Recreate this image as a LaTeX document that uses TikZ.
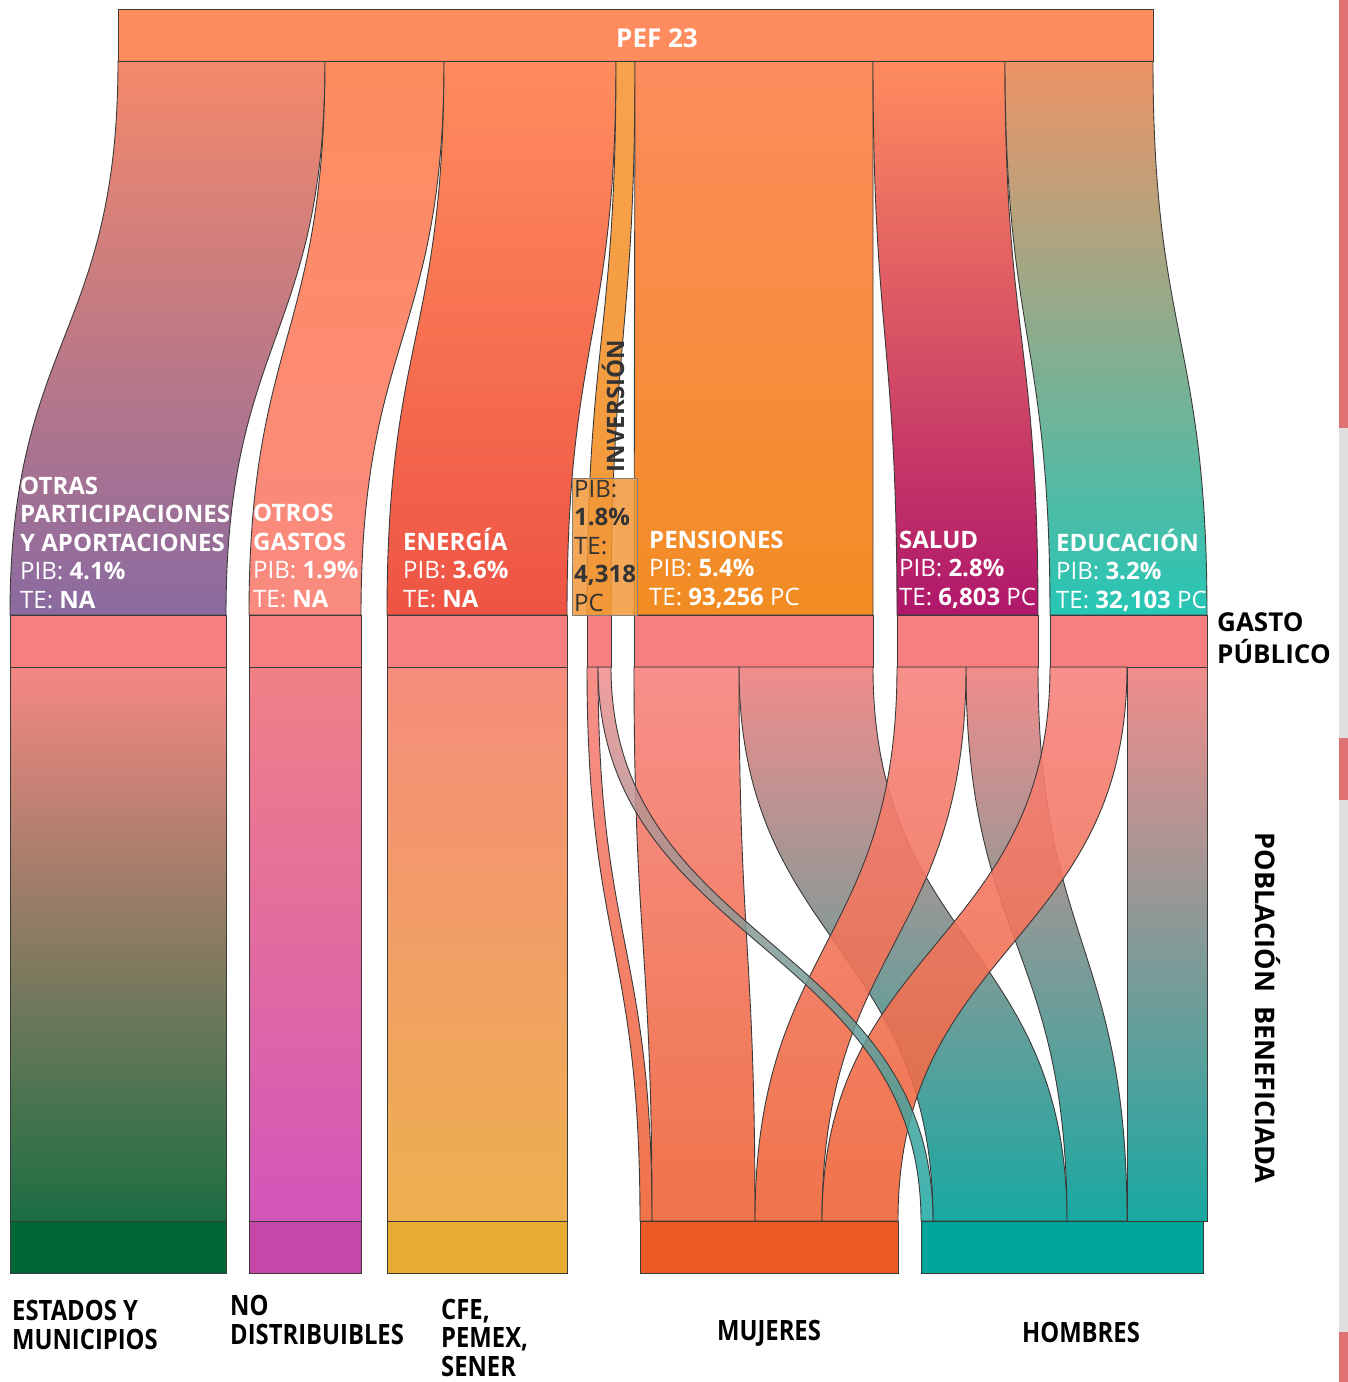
\documentclass[tikz,border=0pt]{standalone}
\usepackage{fontspec}
\setmainfont{Open Sans}
\newfontfamily\condfont[FakeStretch=0.85]{Open Sans}
\usetikzlibrary{calc}

\definecolor{pef}{HTML}{FF8C5E}
\definecolor{edge}{HTML}{3A3A3A}
\definecolor{mid}{HTML}{F77F7F}
\definecolor{otrasT}{HTML}{F4896A}
\definecolor{otrasB}{HTML}{8A6AA0}
\definecolor{otrosB}{HTML}{F98A80}
\definecolor{energB}{HTML}{EE5444}
\definecolor{inverT}{HTML}{F7A24C}
\definecolor{inverB}{HTML}{F29838}
\definecolor{pensB}{HTML}{F18C22}
\definecolor{saludB}{HTML}{AF176B}
\definecolor{educT}{HTML}{EE9466}
\definecolor{educB}{HTML}{26C6B6}
\definecolor{lowT}{HTML}{F58782}
\definecolor{estB}{HTML}{1B6E42}
\definecolor{nodB}{HTML}{D256BA}
\definecolor{cfeB}{HTML}{EDB04E}
\definecolor{mujT}{HTML}{F6847E}
\definecolor{mujB}{HTML}{EE6436}
\definecolor{homT}{HTML}{F18C8C}
\definecolor{homB}{HTML}{18A8A2}
\definecolor{est}{HTML}{006837}
\definecolor{nod}{HTML}{C548A8}
\definecolor{cfe}{HTML}{E8AA32}
\definecolor{muj}{HTML}{EC5A24}
\definecolor{hom}{HTML}{00A599}
\definecolor{dark}{HTML}{333333}

\newcommand{\band}[7][]{%
  \pgfmathsetmacro{\ym}{(#4+#7)/2}%
  \draw[#1] (#2,#4) .. controls (#2,\ym) and (#5,\ym) .. (#5,#7) -- (#6,#7)
    .. controls (#6,\ym) and (#3,\ym) .. (#3,#4) -- cycle;}

\begin{document}
\begin{tikzpicture}[x=1pt, y=-1pt,
  blk/.style={draw=edge, line width=1pt, inner sep=0pt, anchor=north west},
  lbl/.style={text=white, anchor=base west, align=left, inner sep=0pt,
    font=\fontsize{24}{28.5}\selectfont\bfseries},
  side/.style={text=black, inner sep=0pt, font=\fontsize{26}{32}\selectfont\bfseries},
  foot/.style={text=black, inner sep=0pt, font=\condfont\fontsize{28}{28.5}\selectfont\bfseries},
  hflow/.style={top color=homT, bottom color=homB, draw=edge, line width=.9pt},
  mflow/.style={top color=mujT, bottom color=mujB, draw=edge, line width=.9pt, fill opacity=.9}]
\useasboundingbox (0,0) rectangle (1348,1382);

\fill[gray!25] (1339,0) rectangle (1348,1382);
\fill[mid!90!black] (1339,0) rectangle (1348,428);
\fill[mid!90!black] (1339,738) rectangle (1348,800);
\fill[mid!90!black] (1339,1332) rectangle (1348,1382);

\foreach \xa/\xb/\xc/\xd/\ct/\cb in {118/325/10/226/otrasT/otrasB, 325/444/249/361/pef/otrosB,
  444/616/387/567/pef/energB, 616/635/587/611/inverT/inverB, 635/873/634/873/pef/pensB,
  873/1005/897/1038/pef/saludB, 1005/1153/1050/1207/educT/educB}
  \band[top color=\ct, bottom color=\cb, draw=edge, line width=.9pt]{\xa}{\xb}{61}{\xc}{\xd}{615};

\node[blk, fill=pef, minimum width=1035pt, minimum height=52pt] (pef) at (118,9) {};
\node[text=white, inner sep=0pt, font=\fontsize{26}{30}\selectfont\bfseries] (peftxt) at (657,38) {PEF 23};

\foreach \n/\a/\b in {otras/10/226, otros/249/361, energia/387/567, inversion/587/611,
  pensiones/634/873, salud/897/1038, educacion/1050/1207}
  \node[blk, fill=mid, minimum width={(\b-\a)*1pt}, minimum height=52pt] (\n) at (\a,615) {};

\node[blk, fill=inverB, fill opacity=.85, draw=gray, minimum width=65pt, minimum height=137pt] (invbox) at (572,478) {};
\node[text=dark, rotate=90, inner sep=0pt, font=\fontsize{24}{28}\selectfont\bfseries] (invtxt) at (613,406) {INVERSIÓN};
\node[lbl, text=dark] (linv) at (574,611) {\textmd{PIB:}\\1.8\%\\\textmd{TE:}\\4,318\\\textmd{PC}};

\node[lbl] (lotras) at (20,608) {OTRAS\\PARTICIPACIONES\\Y APORTACIONES\\\textmd{PIB:} 4.1\%\\\textmd{TE:} NA};
\node[lbl] (lotros) at (253,607) {OTROS\\GASTOS\\\textmd{PIB:} 1.9\%\\\textmd{TE:} NA};
\node[lbl] (lenergia) at (403,607) {ENERGÍA\\\textmd{PIB:} 3.6\%\\\textmd{TE:} NA};
\node[lbl] (lpensiones) at (649,605) {PENSIONES\\\textmd{PIB:} 5.4\%\\\textmd{TE:} 93,256 \textmd{PC}};
\node[lbl] (lsalud) at (899,605) {SALUD\\\textmd{PIB:} 2.8\%\\\textmd{TE:} 6,803 \textmd{PC}};
\node[lbl] (leducacion) at (1056,608) {EDUCACIÓN\\\textmd{PIB:} 3.2\%\\\textmd{TE:} 32,103 \textmd{PC}};

\band[top color=lowT, bottom color=estB, draw=edge, line width=.9pt]{10}{226}{667}{10}{226}{1221}
\band[top color=lowT!90!nod, bottom color=nodB, draw=edge, line width=.9pt]{249}{361}{667}{249}{361}{1221}
\band[top color=lowT!95!yellow, bottom color=cfeB, draw=edge, line width=.9pt]{387}{567}{667}{387}{567}{1221}

\band[hflow]{739}{873}{667}{933}{1067}{1221}
\band[hflow]{966}{1038}{667}{1067}{1127}{1221}
\band[hflow]{1127}{1207}{667}{1127}{1207}{1221}

\band[mflow]{587}{598}{667}{640}{652}{1221}
\band[mflow]{634}{739}{667}{652}{755}{1221}
\band[mflow]{897}{966}{667}{755}{822}{1221}
\band[mflow]{1050}{1127}{667}{822}{898}{1221}

\band[hflow, fill opacity=.85]{598}{611}{667}{921}{933}{1221}

\node[blk, fill=est, minimum width=216pt, minimum height=52pt] (estados) at (10,1221) {};
\node[blk, fill=nod, minimum width=112pt, minimum height=52pt] (nodist) at (249,1221) {};
\node[blk, fill=cfe, minimum width=180pt, minimum height=52pt] (cfe) at (387,1221) {};
\node[blk, fill=muj, minimum width=258pt, minimum height=52pt] (mujeres) at (640,1221) {};
\node[blk, fill=hom, minimum width=282pt, minimum height=52pt] (hombres) at (921,1221) {};

\node[side, anchor=base west, align=left] (gasto) at (1217,663) {GASTO\\PÚBLICO};
\node[side, rotate=-90, font=\fontsize{27}{32}\selectfont\bfseries] (poblacion) at (1268,1008) {POBLACIÓN\ \ BENEFICIADA};

\node[foot, anchor=base west, align=left] (fest) at (12,1349) {ESTADOS Y\\MUNICIPIOS};
\node[foot, anchor=base west, align=left] (fnod) at (230,1344) {NO\\DISTRIBUIBLES};
\node[foot, anchor=base west, align=left] (fcfe) at (441,1376) {CFE,\\PEMEX,\\SENER};
\node[foot, anchor=base] (fmuj) at (769,1340) {MUJERES};
\node[foot, anchor=base] (fhom) at (1081,1342) {HOMBRES};
\end{tikzpicture}
\end{document}
